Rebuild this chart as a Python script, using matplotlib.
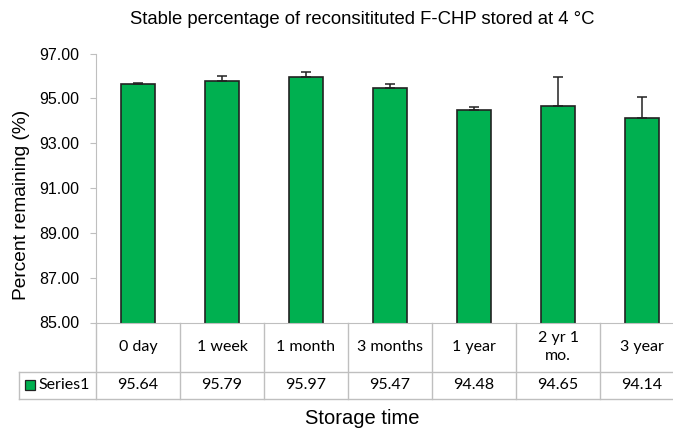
import numpy as np
import matplotlib
matplotlib.use('Agg')
import matplotlib.pyplot as plt
from matplotlib.patches import Rectangle

###DATA###
categories = ['0 day', '1 week', '1 month', '3 months', '1 year', '2 yr 1\nmo.', '3 year']
values = [95.64, 95.79, 95.97, 95.47, 94.48, 94.65, 94.14]
errors = [0.03, 0.22, 0.20, 0.17, 0.15, 1.29, 0.94]
series_name = 'Series1'
yticks = [85, 87, 89, 91, 93, 95, 97]

bar_green = '#00B050'
grid_gray = '#bfbfbf'
tab_font = 'Lato'
lab_font = 'Liberation Sans'

fig = plt.figure(figsize=(6.73, 4.28), dpi=100)
# axes runs a bit past the right edge, like the original picture
ax = fig.add_axes([96/673, 105.5/428, 588/673, 269/428])

x = np.arange(len(categories))
ax.bar(x, values, width=0.4, color=bar_green, edgecolor='#222222', linewidth=1.2, zorder=2)
ax.errorbar(x, values, yerr=[np.zeros(len(errors)), errors], fmt='none',
            ecolor='#222222', elinewidth=1.1, capsize=3.5, capthick=1.1, zorder=3)

ax.set_xlim(-0.5, len(categories) - 0.5)
ax.set_ylim(85, 97)
ax.set_yticks(yticks)
ax.set_yticklabels(['%.2f' % v for v in yticks], fontname=lab_font, fontsize=11.5)
ax.tick_params(axis='y', length=4, color=grid_gray, pad=8)
ax.set_xticks([])
for s in ['top', 'right']:
    ax.spines[s].set_visible(False)
ax.spines['left'].set_color(grid_gray)
ax.spines['bottom'].set_color(grid_gray)

# data table under the axis
hdr_bot = -49/269
row_bot = -76/269
left_cell = -77/84 - 0.5   # x of the series label cell, in data units
kw = dict(color=grid_gray, lw=1, clip_on=False, transform=ax.get_xaxis_transform())
for b in np.arange(-0.5, len(categories), 1.0):
    ax.plot([b, b], [0, row_bot], **kw)
ax.plot([left_cell, len(categories) - 0.5], [hdr_bot, hdr_bot], **kw)
ax.plot([left_cell, len(categories) - 0.5], [row_bot, row_bot], **kw)
ax.plot([left_cell, left_cell], [hdr_bot, row_bot], **kw)

tr = ax.get_xaxis_transform()
row_mid = (hdr_bot + row_bot) / 2
for i, c in enumerate(categories):
    ax.text(i, hdr_bot / 2, c, ha='center', va='center', transform=tr,
            fontname=tab_font, fontsize=11.5, linespacing=1.3)
    ax.text(i, row_mid, '%.2f' % values[i], ha='center', va='center',
            transform=tr, fontname=tab_font, fontsize=11.5)

ax.add_patch(Rectangle((left_cell + 0.07, row_mid - 0.02), 0.12, 0.04,
                       transform=tr, facecolor=bar_green, edgecolor='#222222', lw=0.9,
                       clip_on=False))
ax.text(left_cell + 0.235, row_mid, series_name, ha='left', va='center',
        transform=tr, fontname=tab_font, fontsize=11.5)

fig.text(362/673, 1 - 20/428, 'Stable percentage of reconsitituted F-CHP stored at 4 \u00b0C',
         ha='center', va='center', fontname=lab_font, fontsize=13.3)
fig.text(22/673, 1 - 205/428, 'Percent remaining (%)', rotation=90, ha='center', va='center',
         fontname=lab_font, fontsize=13.8)
fig.text(362/673, 1 - 419/428, 'Storage time', ha='center', va='center',
         fontname=lab_font, fontsize=14.5)

fig.savefig('out.png', dpi=100)
